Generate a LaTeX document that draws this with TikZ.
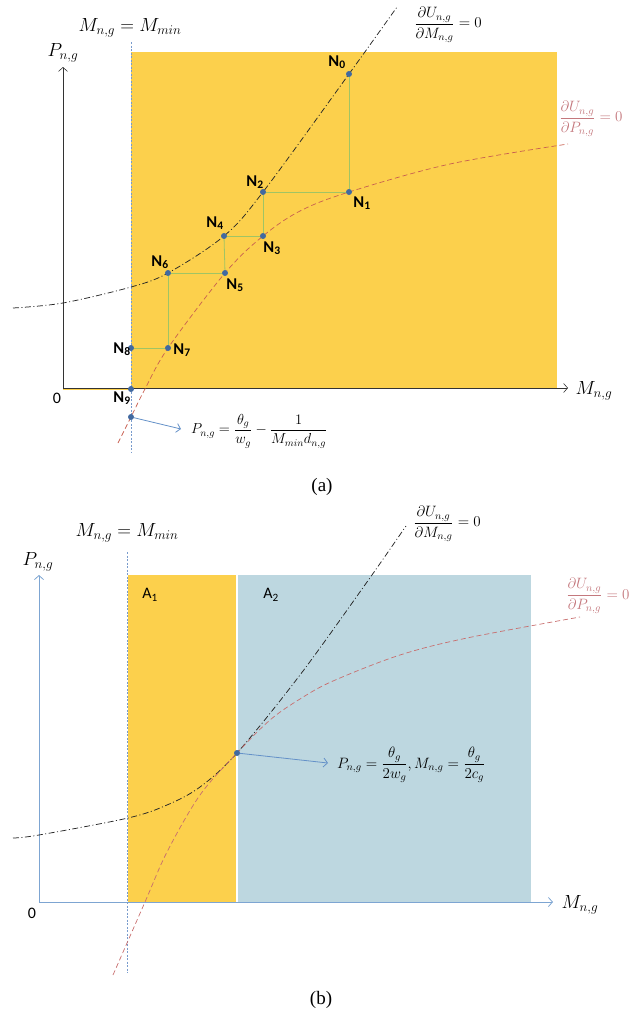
\documentclass[tikz,border=0pt]{standalone}
\usepackage{fix-cm}
\usepackage{fontspec}
\newfontfamily\calib{Carlito}
\newfontfamily\capfont{Liberation Serif}
\usetikzlibrary{arrows.meta}
\definecolor{yel}{RGB}{252,208,76}
\definecolor{bluegray}{RGB}{189,215,224}
\definecolor{axisbc}{RGB}{125,165,210}
\definecolor{dotc}{RGB}{65,105,160}
\definecolor{stairc}{RGB}{160,196,100}
\definecolor{redc}{RGB}{200,95,80}
\definecolor{redb}{RGB}{200,110,110}
\definecolor{pinkc}{RGB}{196,120,125}
\definecolor{arrowc}{RGB}{100,145,200}
\definecolor{dottedc}{RGB}{120,155,205}
\newcommand{\Nl}[1]{N\textsubscript{#1}}
\newcommand{\Al}[1]{A\textsubscript{#1}}
\begin{document}
\begin{tikzpicture}[x=1pt,y=-1pt,
  dot/.style={circle, fill=dotc, inner sep=0pt, minimum size=6pt},
  nlab/.style={font=\calib\bfseries\fontsize{16.5}{17}\selectfont, inner sep=0pt},
  alab/.style={font=\calib\fontsize{16}{17}\selectfont, inner sep=0pt},
  mlab/.style={inner sep=0pt, font=\fontsize{19}{23}\selectfont},
  flab/.style={inner sep=0pt},
  bcurve/.style={black!85, line width=0.75pt, dash pattern=on 6pt off 2.5pt on 1pt off 2.5pt},
  rcurve/.style={redc, line width=0.7pt, dash pattern=on 5pt off 3pt},
  rcurveb/.style={redb, line width=0.7pt, dash pattern=on 5pt off 3pt},
  stair/.style={stairc, line width=0.8pt},
  vdot/.style={dottedc, line width=0.6pt, dash pattern=on 2pt off 1.5pt},
  axisa/.style={black!80, line width=0.6pt, -{Straight Barb[length=4pt,width=9pt]}},
  axisb/.style={axisbc, line width=0.8pt, -{Straight Barb[length=4pt,width=9pt]}},
  callout/.style={arrowc, line width=0.8pt, -{Straight Barb[length=4pt,width=9pt]}}
]
\useasboundingbox (0,0) rectangle (644,1017);

%%%%%%%%%%%%%%%% Panel (a)
\fill[yel] (131,52) rectangle (557,388);
\draw[yel, line width=2.5pt] (63,389) -- (131,389);
\coordinate (oa) at (63,388);
\coordinate (ya) at (63,67);
\coordinate (xa) at (568,388);
\draw[axisa] (oa) -- (ya);
\draw[axisa] (oa) -- (xa);
\coordinate (vat) at (131,42);
\coordinate (vab) at (131,453);
\draw[vdot] (vat) -- (vab);

\draw[bcurve] plot[smooth, tension=0.55] coordinates {(13,308) (63,303) (131,287) (168,273) (224,236) (263,192) (349,74) (397,7)};
\draw[rcurve] plot[smooth, tension=0.55] coordinates {(118,443) (131,417) (145,389) (168,348) (225,273) (263,236) (300,211) (349,192) (450,164) (568,144)};

\node[dot] (n0) at (349,74) {};
\node[dot] (n1) at (349,192) {};
\node[dot] (n2) at (263,192) {};
\node[dot] (n3) at (263,236) {};
\node[dot] (n4) at (224,236) {};
\node[dot] (n5) at (225,273) {};
\node[dot] (n6) at (168,273) {};
\node[dot] (n7) at (168,348) {};
\node[dot] (n8) at (131,348) {};
\node[dot] (n9) at (131,389) {};
\node[dot] (fa) at (131,417) {};
\draw[stair] (n0) -- (n1);
\draw[stair] (n1) -- (n2);
\draw[stair] (n2) -- (n3);
\draw[stair] (n3) -- (n4);
\draw[stair] (n4) -- (n5);
\draw[stair] (n5) -- (n6);
\draw[stair] (n6) -- (n7);
\draw[stair] (n7) -- (n8);

\node[nlab] (l0) at (337,62) {\Nl{0}};
\node[nlab] (l1) at (362,203) {\Nl{1}};
\node[nlab] (l2) at (255,182) {\Nl{2}};
\node[nlab] (l3) at (272,248) {\Nl{3}};
\node[nlab] (l4) at (215,223) {\Nl{4}};
\node[nlab] (l5) at (235,285) {\Nl{5}};
\node[nlab] (l6) at (160,262) {\Nl{6}};
\node[nlab] (l7) at (182,350) {\Nl{7}};
\node[nlab] (l8) at (122,349) {\Nl{8}};
\node[nlab] (l9) at (122,398) {\Nl{9}};

\coordinate (fat) at (181,429);
\draw[callout] (fa) -- (fat);
\node[flab, anchor=west] (fxa) at (191,431) {\fontsize{14.5}{17}\selectfont $\displaystyle P_{n,g}=\frac{\theta_g}{w_g}-\frac{1}{M_{min}d_{n,g}}$};

\node[mlab] (mmina) at (130,28) {$M_{n,g}=M_{min}$};
\node[mlab] (pa) at (63,53) {$P_{n,g}$};
\node[mlab] (ma) at (594,391) {$M_{n,g}$};
\node[alab] (za) at (57,398) {0};
\node[flab] (dma) at (448,25) {\fontsize{15}{18}\selectfont $\displaystyle\frac{\partial U_{n,g}}{\partial M_{n,g}}=0$};
\node[flab, text=pinkc] (dpa) at (591,119) {\fontsize{15}{18}\selectfont $\displaystyle\frac{\partial U_{n,g}}{\partial P_{n,g}}=0$};
\node[inner sep=0pt, font=\capfont\fontsize{19}{22}\selectfont] (capa) at (322,487) {(a)};

%%%%%%%%%%%%%%%% Panel (b)
\fill[yel] (127.5,575) rectangle (237,902);
\fill[bluegray] (237,575) rectangle (531,902);
\draw[white, line width=1.5pt] (237,575) -- (237,902);
\coordinate (ob) at (39,902);
\coordinate (yb) at (39,575);
\coordinate (xb) at (553,902);
\draw[axisb] (ob) -- (yb);
\draw[axisb] (ob) -- (xb);
\coordinate (vbt) at (127.5,552);
\coordinate (vbb) at (127.5,973);
\draw[vdot] (vbt) -- (vbb);

\draw[bcurve] plot[smooth, tension=0.55] coordinates {(13,838) (39,835) (128,818) (167,805) (200,787) (237,753) (300,675) (367,582) (406,526)};
\draw[rcurveb] plot[smooth, tension=0.55] coordinates {(113,975) (145,902) (167,852) (200,795) (237,753) (270,720) (300,699) (333,681) (400,655) (467,638) (580,617)};

\node[dot] (xp) at (237,753) {};
\coordinate (fbt) at (328,763);
\draw[callout] (xp) -- (fbt);
\node[flab, anchor=west] (fxb) at (337,765) {\fontsize{15}{18}\selectfont $\displaystyle P_{n,g}=\frac{\theta_g}{2w_g},M_{n,g}=\frac{\theta_g}{2c_g}$};

\node[alab] (a1) at (150,595) {\Al{1}};
\node[alab] (a2) at (271,595) {\Al{2}};
\node[mlab] (mminb) at (127,533) {$M_{n,g}=M_{min}$};
\node[mlab] (pb) at (38,562) {$P_{n,g}$};
\node[mlab] (mb) at (580,905) {$M_{n,g}$};
\node[alab] (zb) at (32,913) {0};
\node[flab] (dmb) at (447,524) {\fontsize{15}{18}\selectfont $\displaystyle\frac{\partial U_{n,g}}{\partial M_{n,g}}=0$};
\node[flab, text=pinkc] (dpb) at (598,596) {\fontsize{15}{18}\selectfont $\displaystyle\frac{\partial U_{n,g}}{\partial P_{n,g}}=0$};
\node[inner sep=0pt, font=\capfont\fontsize{19}{22}\selectfont] (capb) at (321,1000) {(b)};
\end{tikzpicture}
\end{document}
